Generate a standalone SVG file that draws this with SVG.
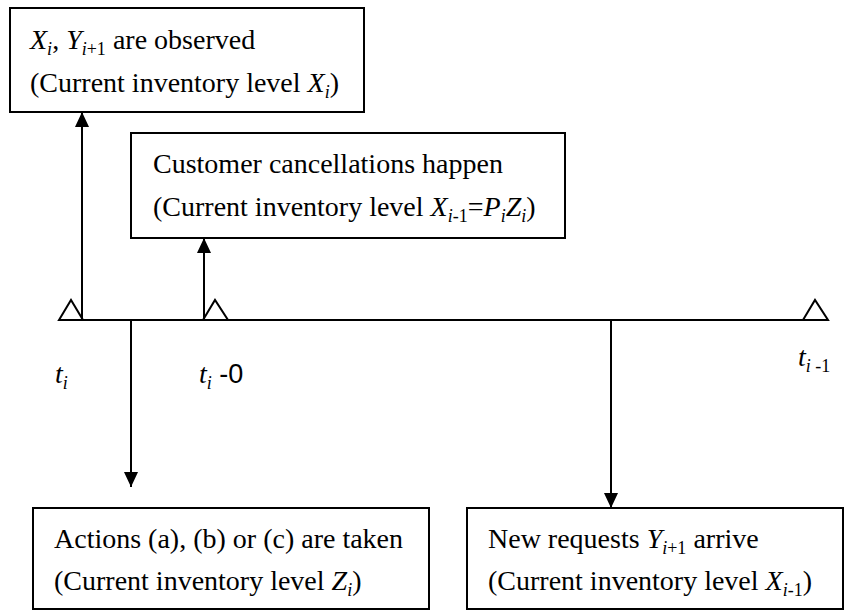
<svg xmlns="http://www.w3.org/2000/svg" width="844" height="610" viewBox="0 0 844 610">
<style>
.box{fill:#fff;stroke:#000;stroke-width:2}
.t{font-family:"Liberation Serif","Times New Roman",serif;font-size:28px;fill:#000}
.it{font-style:italic}
.s{font-size:18px}
.ln{stroke:#000;stroke-width:2;fill:none}
.tri{fill:none;stroke:#000;stroke-width:2}
.sans{font-family:"Liberation Sans",Arial,sans-serif;font-size:27px}
</style>
<defs>
<marker id="ah" markerUnits="userSpaceOnUse" markerWidth="16" markerHeight="16" refX="15" refY="7" orient="auto">
<path d="M0,0 L15,7 L0,14 Z" fill="#000"/>
</marker>
</defs>
<g id="timeline">
<line class="ln" x1="59" y1="320" x2="828" y2="320"/>
<polygon class="tri" points="59,320 71,300 83,320"/>
<polygon class="tri" points="203,320 215,300 228,320"/>
<polygon class="tri" points="803,320 815,300 828,320"/>
<text class="t it" x="55" y="383">t<tspan class="s" dy="6">i</tspan></text>
<text class="t" x="199" y="383"><tspan class="it">t</tspan><tspan class="s it" dy="6">i</tspan><tspan class="sans" dy="-6"> -0</tspan></text>
<text class="t" x="798" y="366"><tspan class="it">t</tspan><tspan class="s" dy="6"><tspan class="it">i</tspan> -1</tspan></text>
</g>
<g id="connectors">
<line class="ln" x1="82" y1="320" x2="82" y2="112" marker-end="url(#ah)"/>
<line class="ln" x1="204" y1="320" x2="204" y2="238" marker-end="url(#ah)"/>
<line class="ln" x1="131" y1="320" x2="131" y2="487" marker-end="url(#ah)"/>
<line class="ln" x1="611" y1="320" x2="611" y2="508" marker-end="url(#ah)"/>
</g>
<g id="node-observed">
<rect class="box" x="10" y="8" width="354" height="104"/>
<text class="t" x="30" y="49"><tspan class="it">X</tspan><tspan class="s it" dy="6">i</tspan><tspan dy="-6">, </tspan><tspan class="it">Y</tspan><tspan class="s" dy="6"><tspan class="it">i</tspan>+1</tspan><tspan dy="-6"> are observed</tspan></text>
<text class="t" x="30" y="92">(Current inventory level <tspan class="it">X</tspan><tspan class="s it" dy="6">i</tspan><tspan dy="-6">)</tspan></text>
</g>
<g id="node-cancellations">
<rect class="box" x="131" y="133" width="434" height="105"/>
<text class="t" x="153" y="173">Customer cancellations happen</text>
<text class="t" x="153" y="216">(Current inventory level <tspan class="it">X</tspan><tspan class="s" dy="6"><tspan class="it">i</tspan>-1</tspan><tspan dy="-6">=</tspan><tspan class="it">P</tspan><tspan class="s it" dy="6">i</tspan><tspan class="it" dy="-6">Z</tspan><tspan class="s it" dy="6">i</tspan><tspan dy="-6">)</tspan></text>
</g>
<g id="node-actions">
<rect class="box" x="33" y="508" width="396" height="101"/>
<text class="t" x="54" y="548">Actions (a), (b) or (c) are taken</text>
<text class="t" x="54" y="590">(Current inventory level <tspan class="it">Z</tspan><tspan class="s it" dy="6">i</tspan><tspan dy="-6">)</tspan></text>
</g>
<g id="node-requests">
<rect class="box" x="467" y="508" width="376" height="101"/>
<text class="t" x="488" y="548">New requests <tspan class="it">Y</tspan><tspan class="s" dy="6"><tspan class="it">i</tspan>+1</tspan><tspan dy="-6"> arrive</tspan></text>
<text class="t" x="488" y="590">(Current inventory level <tspan class="it">X</tspan><tspan class="s" dy="6"><tspan class="it">i</tspan>-1</tspan><tspan dy="-6">)</tspan></text>
</g>
</svg>
